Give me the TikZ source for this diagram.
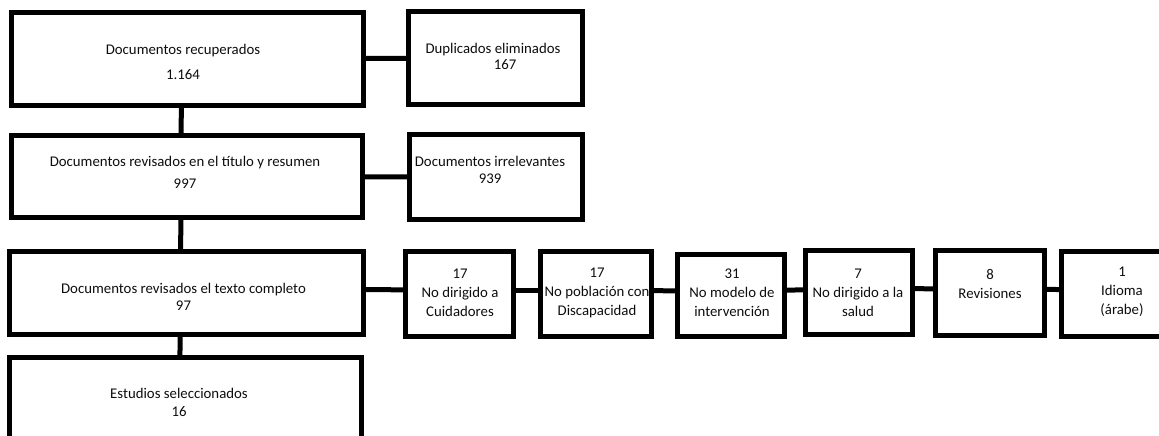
\documentclass[tikz,border=0pt]{standalone}
\usepackage{fontspec}
\setmainfont{Carlito}
\begin{document}
\begin{tikzpicture}[x=1pt,y=-1pt]
  % Colors
  \colorlet{boxcolor}{black}
  \colorlet{labelcolor}{black!95}

  % Styles
  \tikzstyle{box}=[draw=boxcolor,line width=5pt,inner sep=0pt]
  \tikzstyle{box text}=[align=center,text=labelcolor,inner sep=0pt,
                        font=\fontsize{14.8}{18}\selectfont]
  \tikzstyle{link}=[draw=boxcolor,line width=5pt]
  \tikzstyle{down link}=[link,transform canvas={xshift=-6pt}]
  \tikzstyle{row link}=[link,transform canvas={yshift=4pt}]

  % The graphic
  \useasboundingbox (0,0) rectangle (1159,436);
  \clip (0,0) rectangle (1159,436);

  % main column
  \node[box,minimum width=352pt,minimum height=93pt] (recuperados) at (187.5,59) {};
  \node[box text] (recuperadosT) at (183,61.5) {Documentos recuperados\\[7pt]1.164};

  \node[box,minimum width=351pt,minimum height=82pt] (titulo) at (187,176.5) {};
  \node[box text] (tituloT) at (185,172) {Documentos revisados en el título y resumen\\[4pt]997};

  \node[box,minimum width=354pt,minimum height=83pt] (completo) at (186.5,293) {};
  \node[box text] (completoT) at (183.5,296.5) {Documentos revisados el texto completo\\[-1pt]97};

  \node[box,minimum width=352pt,minimum height=100pt] (seleccionados) at (185.5,407.5) {};
  \node[box text] (seleccionadosT) at (179,402) {Estudios seleccionados\\16};

  % removed records
  \node[box,minimum width=174pt,minimum height=93pt] (duplicados) at (495.5,58) {};
  \node[box text] (duplicadosT) at (493,56) {Duplicados eliminados\\[-2pt]\hspace*{24pt}167};

  \node[box,minimum width=173pt,minimum height=85pt] (irrelevantes) at (496,177) {};
  \node[box text] (irrelevantesT) at (490,169.5) {Documentos irrelevantes\\[-1pt]939};

  % exclusion reasons
  \node[box,minimum width=108pt,minimum height=85pt] (cuidadores) at (459.5,294) {};
  \node[box text] (cuidadoresT) at (460,293) {17\\[1pt]No dirigido a\\[1pt]Cuidadores};

  \node[box,minimum width=111pt,minimum height=85pt] (discapacidad) at (596,294) {};
  \node[box text] (discapacidadT) at (597,293) {17\\[1pt]No población con\\[1pt]Discapacidad};

  \node[box,minimum width=107pt,minimum height=82pt] (modelo) at (731,295.5) {};
  \node[box text] (modeloT) at (732,293) {31\\[1pt]No modelo de\\[1pt]intervención};

  \node[box,minimum width=107pt,minimum height=84pt] (salud) at (859,292.5) {};
  \node[box text] (saludT) at (858,293) {7\\[1pt]No dirigido a la\\[1pt]salud};

  \node[box,minimum width=109pt,minimum height=85pt] (revisiones) at (990,293) {};
  \node[box text] (revisionesT) at (990,283.5) {8\\[1pt]Revisiones};

  \node[box,minimum width=121pt,minimum height=85pt] (idioma) at (1122,294) {};
  \node[box text] (idiomaT) at (1122,292) {1\\[1pt]Idioma\\[1pt](árabe)};

  % connectors
  \draw[down link] (recuperados) -- (titulo);
  \draw[down link] (titulo) -- (completo);
  \draw[down link] (completo) -- (seleccionados);

  \draw[link] (recuperados) -- (duplicados);
  \draw[link] (titulo) -- (irrelevantes);

  \draw[row link] (completo) -- (cuidadores);
  \draw[row link] (cuidadores) -- (discapacidad);
  \draw[row link] (discapacidad) -- (modelo);
  \draw[row link] (modelo) -- (salud);
  \draw[row link] (salud) -- (revisiones);
  \draw[row link] (revisiones) -- (idioma);
\end{tikzpicture}
\end{document}
